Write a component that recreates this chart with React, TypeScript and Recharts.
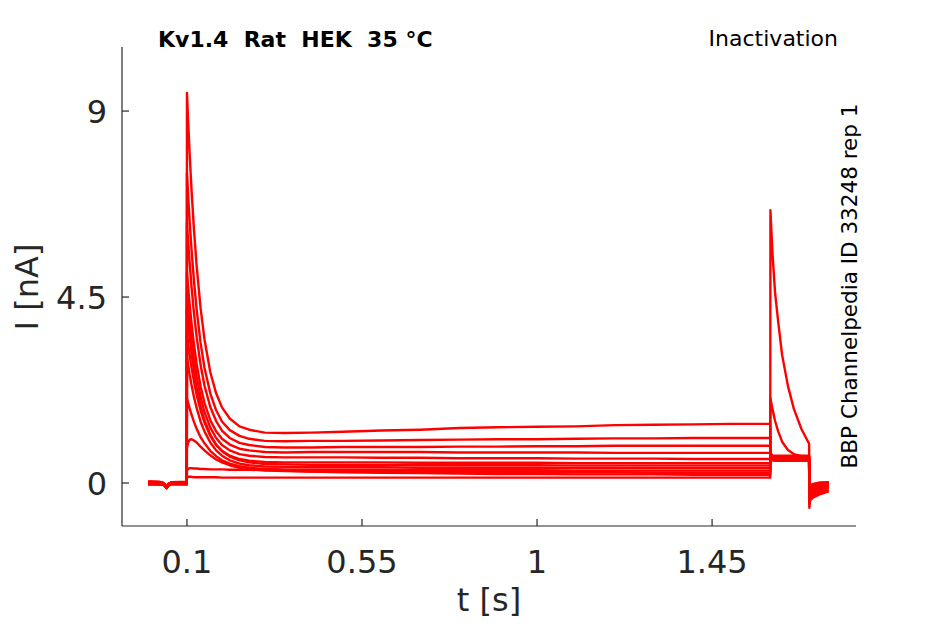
import React from "react";
import { LineChart, Line, XAxis, YAxis } from "recharts";

// time grid [s]
const TIME = [
  0, 0.03, 0.04, 0.045, 0.048, 0.052, 0.06, 0.0995,
  0.1, 0.103, 0.107, 0.112, 0.118, 0.125, 0.135, 0.145, 0.16, 0.175, 0.19, 0.21, 0.235, 0.26, 0.3,
  0.35, 0.42, 0.5, 0.6, 0.7, 0.8, 0.9, 1.0, 1.1, 1.2, 1.3, 1.4, 1.5, 1.5995,
  1.6, 1.605, 1.612, 1.62, 1.63, 1.645, 1.66, 1.68, 1.6995,
  1.7, 1.702, 1.71, 1.725, 1.75,
];

// current traces [nA]
const S0 = [
  0.03, 0.02, -0.01, -0.06, -0.1, -0.03, 0.01, 0.02,
  0.15, 0.15, 0.15, 0.15, 0.14, 0.14, 0.14, 0.14, 0.14, 0.14, 0.13, 0.13, 0.13, 0.13, 0.13,
  0.13, 0.13, 0.13, 0.13, 0.13, 0.13, 0.13, 0.13, 0.13, 0.13, 0.13, 0.13, 0.13, 0.13,
  6.6, 5.6, 4.6, 3.9, 3.1, 2.35, 1.8, 1.3, 0.95,
  -0.6, -0.42, -0.35, -0.28, -0.2,
];
const S1 = [
  -0.02, -0.03, -0.04, -0.09, -0.12, -0.06, -0.02, -0.03,
  0.3, 0.34, 0.36, 0.36, 0.35, 0.35, 0.34, 0.34, 0.33, 0.33, 0.33, 0.32, 0.32, 0.32, 0.31,
  0.3, 0.28, 0.26, 0.25, 0.24, 0.23, 0.22, 0.22, 0.21, 0.21, 0.21, 0.2, 0.2, 0.2,
  2.05, 1.8, 1.5, 1.25, 1.0, 0.8, 0.7, 0.65, 0.62,
  -0.5, -0.38, -0.3, -0.24, -0.17,
];
const S2 = [
  0.01, 0.0, -0.02, -0.07, -0.11, -0.04, 0.0, 0.0,
  0.85, 0.98, 1.05, 1.06, 1.03, 0.98, 0.88, 0.79, 0.67, 0.57, 0.5, 0.43, 0.37, 0.34, 0.31,
  0.29, 0.28, 0.28, 0.27, 0.27, 0.27, 0.26, 0.26, 0.26, 0.26, 0.25, 0.25, 0.25, 0.25,
  0.75, 0.65, 0.6, 0.58, 0.57, 0.57, 0.57, 0.57, 0.57,
  -0.45, -0.33, -0.27, -0.2, -0.12,
];
const S3 = [
  -0.04, -0.04, -0.05, -0.1, -0.13, -0.07, -0.03, -0.04,
  2.05, 1.94, 1.8, 1.65, 1.48, 1.31, 1.11, 0.96, 0.78, 0.65, 0.55, 0.47, 0.41, 0.37, 0.34,
  0.33, 0.32, 0.32, 0.32, 0.31, 0.31, 0.31, 0.31, 0.3, 0.3, 0.3, 0.3, 0.3, 0.3,
  0.6, 0.57, 0.56, 0.56, 0.56, 0.56, 0.56, 0.56, 0.56,
  -0.42, -0.3, -0.24, -0.17, -0.1,
];
const S4 = [
  0.04, 0.03, 0.0, -0.05, -0.09, -0.02, 0.02, 0.03,
  3.05, 2.86, 2.62, 2.36, 2.08, 1.81, 1.49, 1.25, 0.98, 0.79, 0.66, 0.55, 0.47, 0.43, 0.4,
  0.39, 0.38, 0.38, 0.38, 0.37, 0.37, 0.37, 0.37, 0.36, 0.36, 0.36, 0.36, 0.36, 0.36,
  0.58, 0.56, 0.55, 0.55, 0.55, 0.55, 0.55, 0.55, 0.55,
  -0.4, -0.27, -0.21, -0.14, -0.08,
];
const S5 = [
  -0.01, -0.02, -0.03, -0.08, -0.11, -0.05, -0.01, -0.01,
  3.6, 3.37, 3.09, 2.78, 2.46, 2.13, 1.76, 1.47, 1.14, 0.92, 0.77, 0.64, 0.55, 0.5, 0.46,
  0.45, 0.44, 0.44, 0.44, 0.43, 0.43, 0.43, 0.43, 0.42, 0.42, 0.42, 0.42, 0.42, 0.42,
  0.58, 0.55, 0.54, 0.54, 0.54, 0.54, 0.54, 0.54, 0.54,
  -0.38, -0.24, -0.18, -0.11, -0.06,
];
const S6 = [
  0.02, 0.01, -0.01, -0.06, -0.1, -0.03, 0.01, 0.01,
  4.2, 3.9, 3.53, 3.13, 2.71, 2.31, 1.86, 1.52, 1.17, 0.93, 0.78, 0.66, 0.58, 0.54, 0.51,
  0.5, 0.5, 0.5, 0.5, 0.49, 0.49, 0.49, 0.49, 0.48, 0.48, 0.48, 0.48, 0.48, 0.48,
  0.6, 0.57, 0.56, 0.56, 0.56, 0.56, 0.56, 0.56, 0.56,
  -0.36, -0.21, -0.15, -0.09, -0.04,
];
const S7 = [
  -0.03, -0.03, -0.04, -0.09, -0.12, -0.06, -0.02, -0.02,
  4.6, 4.27, 3.88, 3.45, 3.0, 2.57, 2.08, 1.72, 1.34, 1.09, 0.92, 0.79, 0.7, 0.66, 0.63,
  0.62, 0.62, 0.62, 0.61, 0.61, 0.6, 0.6, 0.6, 0.59, 0.59, 0.59, 0.58, 0.58, 0.58,
  0.62, 0.59, 0.58, 0.58, 0.58, 0.58, 0.58, 0.58, 0.58,
  -0.34, -0.18, -0.12, -0.06, -0.02,
];
const S8 = [
  0.0, 0.0, -0.02, -0.07, -0.1, -0.04, 0.0, 0.0,
  5.1, 4.74, 4.31, 3.84, 3.35, 2.88, 2.34, 1.94, 1.52, 1.25, 1.07, 0.93, 0.83, 0.79, 0.75,
  0.74, 0.75, 0.75, 0.75, 0.75, 0.74, 0.74, 0.74, 0.74, 0.73, 0.73, 0.73, 0.73, 0.73,
  0.64, 0.61, 0.6, 0.6, 0.6, 0.6, 0.6, 0.6, 0.6,
  -0.32, -0.15, -0.09, -0.04, 0.0,
];
const S9 = [
  0.03, 0.02, 0.0, -0.05, -0.08, -0.02, 0.02, 0.02,
  6.3, 5.85, 5.32, 4.72, 4.11, 3.53, 2.86, 2.36, 1.84, 1.5, 1.27, 1.09, 0.97, 0.92, 0.87,
  0.86, 0.86, 0.87, 0.87, 0.87, 0.88, 0.88, 0.89, 0.89, 0.9, 0.9, 0.9, 0.9, 0.9,
  0.66, 0.63, 0.62, 0.62, 0.62, 0.62, 0.62, 0.62, 0.62,
  -0.3, -0.12, -0.06, -0.02, 0.01,
];
const S10 = [
  -0.02, -0.01, -0.03, -0.08, -0.12, -0.05, -0.01, -0.02,
  7.5, 6.97, 6.32, 5.62, 4.89, 4.19, 3.39, 2.79, 2.17, 1.76, 1.49, 1.28, 1.14, 1.07, 1.02,
  1.01, 1.02, 1.02, 1.03, 1.04, 1.05, 1.06, 1.06, 1.07, 1.08, 1.08, 1.09, 1.09, 1.09,
  0.68, 0.65, 0.64, 0.64, 0.64, 0.64, 0.64, 0.64, 0.64,
  -0.28, -0.09, -0.04, 0.0, 0.02,
];
const S11 = [
  0.01, 0.01, -0.02, -0.06, -0.09, -0.03, 0.01, 0.01,
  9.44, 8.76, 7.95, 7.05, 6.13, 5.24, 4.23, 3.48, 2.68, 2.17, 1.83, 1.56, 1.37, 1.29, 1.22,
  1.21, 1.22, 1.24, 1.27, 1.29, 1.33, 1.35, 1.36, 1.37, 1.4, 1.41, 1.42, 1.43, 1.43,
  0.7, 0.67, 0.66, 0.66, 0.66, 0.66, 0.66, 0.66, 0.66,
  -0.26, -0.06, -0.02, 0.01, 0.02,
];

const SERIES = [S0, S1, S2, S3, S4, S5, S6, S7, S8, S9, S10, S11];

const X_TICKS = [0.1, 0.55, 1, 1.45];
const Y_TICKS = [0, 4.5, 9];
const X_DOMAIN = [-0.067, 1.82];
const Y_DOMAIN = [-1.04, 10.55];

const TITLE = "Kv1.4  Rat  HEK  35 °C";
const PROTOCOL = "Inactivation";
const SOURCE = "BBP Channelpedia ID 33248 rep 1";
const X_LABEL = "t [s]";
const Y_LABEL = "I [nA]";

const data = TIME.map((t, i) => {
  const row: Record<string, number> = { t };
  SERIES.forEach((s, k) => {
    row["s" + k] = s[i];
  });
  return row;
});

const FONT = "DejaVu Sans";
const AXIS = "#262626";

// plot box edges (layout)
const PLOT_LEFT = 122;
const PLOT_BOTTOM = 526;
const TICK_LEN = 7;

const XTick = (props: any) => (
  <g>
    <line
      x1={props.x}
      x2={props.x}
      y1={PLOT_BOTTOM}
      y2={PLOT_BOTTOM - TICK_LEN}
      stroke={AXIS}
      strokeWidth={1.2}
    />
    <text x={props.x} y={573} textAnchor="middle" fontSize={32} fill={AXIS} fontFamily={FONT}>
      {String(props.payload.value)}
    </text>
  </g>
);

const YTick = (props: any) => (
  <g>
    <line
      x1={PLOT_LEFT}
      x2={PLOT_LEFT + TICK_LEN}
      y1={props.y}
      y2={props.y}
      stroke={AXIS}
      strokeWidth={1.2}
    />
    <text x={107} y={props.y + 11.5} textAnchor="end" fontSize={32} fill={AXIS} fontFamily={FONT}>
      {String(props.payload.value)}
    </text>
  </g>
);

export default function App() {
  return (
    <div style={{ position: "absolute", left: 0, top: 0, width: 945, height: 624, background: "#fff" }}>
      <LineChart
        width={945}
        height={624}
        data={data}
        margin={{ top: 47, right: 89, bottom: 0, left: 0 }}
      >
        <XAxis
          type="number"
          dataKey="t"
          domain={X_DOMAIN}
          ticks={X_TICKS}
          allowDataOverflow
          height={98}
          tickLine={false}
          tick={XTick}
          axisLine={{ stroke: AXIS, strokeWidth: 1.2 }}
        />
        <YAxis
          type="number"
          domain={Y_DOMAIN}
          ticks={Y_TICKS}
          allowDataOverflow
          width={122}
          tickLine={false}
          tick={YTick}
          axisLine={{ stroke: AXIS, strokeWidth: 1.2 }}
        />
        {SERIES.map((_, k) => (
          <Line
            key={k}
            dataKey={"s" + k}
            type="linear"
            stroke="#ff0000"
            strokeWidth={2.4}
            strokeLinejoin="round"
            dot={false}
            activeDot={false}
            isAnimationActive={false}
          />
        ))}
      </LineChart>
      <svg
        width={945}
        height={624}
        style={{ position: "absolute", left: 0, top: 0, pointerEvents: "none" }}
      >
        <text x={158} y={47} fontSize={22} fontWeight="bold" fontFamily={FONT} fill="#000" style={{ whiteSpace: "pre" }}>
          {TITLE}
        </text>
        <text x={838} y={46} fontSize={22} textAnchor="end" fontFamily={FONT} fill="#000">
          {PROTOCOL}
        </text>
        <text
          x={0}
          y={0}
          fontSize={21.5}
          textAnchor="middle"
          fontFamily={FONT}
          fill="#000"
          transform="translate(857 286) rotate(-90)"
        >
          {SOURCE}
        </text>
        <text
          x={0}
          y={0}
          fontSize={32}
          textAnchor="middle"
          fontFamily={FONT}
          fill={AXIS}
          transform="translate(38 287) rotate(-90)"
        >
          {Y_LABEL}
        </text>
        <text x={489} y={611} fontSize={32} textAnchor="middle" fontFamily={FONT} fill={AXIS}>
          {X_LABEL}
        </text>
      </svg>
    </div>
  );
}
